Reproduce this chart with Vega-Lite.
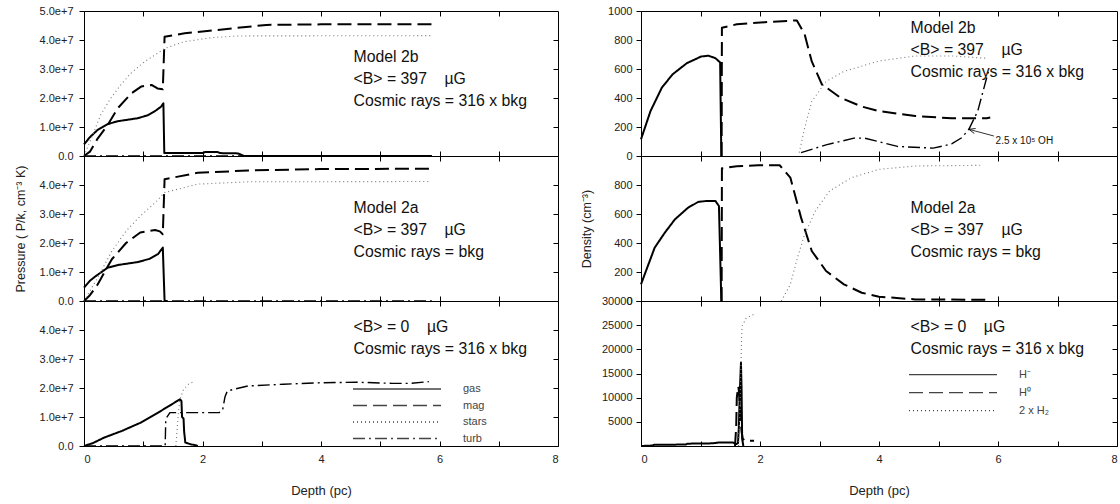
{
"$schema": "https://vega.github.io/schema/vega-lite/v6.json",
"padding": {"left": 13, "top": 4, "right": 0, "bottom": 0},
"datasets": {
"L1": [
{"s":"gas","d":0,"v":4.0e6},{"s":"gas","d":0.1,"v":6.5e6},{"s":"gas","d":0.23,"v":9.0e6},{"s":"gas","d":0.4,"v":1.1e7},{"s":"gas","d":0.57,"v":1.2e7},{"s":"gas","d":0.9,"v":1.3e7},{"s":"gas","d":1.07,"v":1.4e7},{"s":"gas","d":1.2,"v":1.55e7},{"s":"gas","d":1.3,"v":1.7e7},{"s":"gas","d":1.34,"v":1.82e7},{"s":"gas","d":1.355,"v":1.0e6},{"s":"gas","d":2.0,"v":1.0e6},{"s":"gas","d":2.05,"v":1.4e6},{"s":"gas","d":2.25,"v":1.4e6},{"s":"gas","d":2.3,"v":1.0e6},{"s":"gas","d":2.6,"v":9.0e5},{"s":"gas","d":2.7,"v":0},{"s":"gas","d":5.87,"v":0},
{"s":"mag","d":0,"v":0},{"s":"mag","d":0.1,"v":1.5e6},{"s":"mag","d":0.23,"v":6.0e6},{"s":"mag","d":0.4,"v":1.07e7},{"s":"mag","d":0.57,"v":1.65e7},{"s":"mag","d":0.8,"v":2.16e7},{"s":"mag","d":0.97,"v":2.4e7},{"s":"mag","d":1.14,"v":2.45e7},{"s":"mag","d":1.24,"v":2.33e7},{"s":"mag","d":1.33,"v":2.3e7},{"s":"mag","d":1.36,"v":4.11e7},{"s":"mag","d":1.7,"v":4.23e7},{"s":"mag","d":2.5,"v":4.4e7},{"s":"mag","d":3.08,"v":4.52e7},{"s":"mag","d":4.0,"v":4.54e7},{"s":"mag","d":5.87,"v":4.54e7},
{"s":"stars","d":0,"v":0},{"s":"stars","d":0.17,"v":8.4e6},{"s":"stars","d":0.28,"v":1.41e7},{"s":"stars","d":0.45,"v":1.99e7},{"s":"stars","d":0.62,"v":2.45e7},{"s":"stars","d":0.79,"v":2.85e7},{"s":"stars","d":1.02,"v":3.25e7},{"s":"stars","d":1.24,"v":3.54e7},{"s":"stars","d":1.36,"v":3.71e7},{"s":"stars","d":1.69,"v":3.94e7},{"s":"stars","d":2.15,"v":4.08e7},{"s":"stars","d":2.6,"v":4.14e7},{"s":"stars","d":5.87,"v":4.15e7},
{"s":"turb","d":0,"v":0},{"s":"turb","d":5.87,"v":0}
],
"L2": [
{"s":"gas","d":0,"v":4.6e6},{"s":"gas","d":0.1,"v":7.0e6},{"s":"gas","d":0.2,"v":8.6e6},{"s":"gas","d":0.4,"v":1.15e7},{"s":"gas","d":0.6,"v":1.25e7},{"s":"gas","d":0.9,"v":1.34e7},{"s":"gas","d":1.1,"v":1.45e7},{"s":"gas","d":1.25,"v":1.62e7},{"s":"gas","d":1.33,"v":1.84e7},{"s":"gas","d":1.36,"v":0},{"s":"gas","d":1.4,"v":0},
{"s":"mag","d":0,"v":0},{"s":"mag","d":0.1,"v":2.0e6},{"s":"mag","d":0.23,"v":5.7e6},{"s":"mag","d":0.47,"v":1.44e7},{"s":"mag","d":0.71,"v":2.0e7},{"s":"mag","d":0.95,"v":2.36e7},{"s":"mag","d":1.2,"v":2.45e7},{"s":"mag","d":1.28,"v":2.4e7},{"s":"mag","d":1.33,"v":2.3e7},{"s":"mag","d":1.36,"v":4.2e7},{"s":"mag","d":1.92,"v":4.42e7},{"s":"mag","d":2.77,"v":4.5e7},{"s":"mag","d":3.98,"v":4.55e7},{"s":"mag","d":5.85,"v":4.56e7},
{"s":"stars","d":0,"v":0},{"s":"stars","d":0.23,"v":8.0e6},{"s":"stars","d":0.47,"v":1.72e7},{"s":"stars","d":0.71,"v":2.41e7},{"s":"stars","d":0.95,"v":2.93e7},{"s":"stars","d":1.2,"v":3.39e7},{"s":"stars","d":1.36,"v":3.74e7},{"s":"stars","d":1.92,"v":4.03e7},{"s":"stars","d":2.77,"v":4.11e7},{"s":"stars","d":5.85,"v":4.12e7},
{"s":"turb","d":0,"v":0},{"s":"turb","d":5.87,"v":0}
],
"L3": [
{"s":"gas","d":0,"v":0},{"s":"gas","d":0.15,"v":1.0e6},{"s":"gas","d":0.34,"v":2.9e6},{"s":"gas","d":0.64,"v":5.2e6},{"s":"gas","d":0.95,"v":8.0e6},{"s":"gas","d":1.25,"v":1.15e7},{"s":"gas","d":1.62,"v":1.61e7},{"s":"gas","d":1.645,"v":1.55e7},{"s":"gas","d":1.655,"v":1.0e7},{"s":"gas","d":1.68,"v":9.5e6},{"s":"gas","d":1.69,"v":5.0e6},{"s":"gas","d":1.71,"v":1.2e6},{"s":"gas","d":1.8,"v":6.0e5},{"s":"gas","d":1.9,"v":2.0e5},{"s":"gas","d":1.92,"v":0},
{"s":"stars","d":1.55,"v":0},{"s":"stars","d":1.6,"v":1.3e7},{"s":"stars","d":1.62,"v":1.6e7},{"s":"stars","d":1.68,"v":1.95e7},{"s":"stars","d":1.77,"v":2.15e7},{"s":"stars","d":1.86,"v":2.22e7},
{"s":"turb","d":0,"v":0},{"s":"turb","d":1.37,"v":0},{"s":"turb","d":1.38,"v":9.3e6},{"s":"turb","d":1.45,"v":1.15e7},{"s":"turb","d":2.28,"v":1.15e7},{"s":"turb","d":2.34,"v":1.25e7},{"s":"turb","d":2.38,"v":1.7e7},{"s":"turb","d":2.42,"v":1.9e7},{"s":"turb","d":2.52,"v":1.95e7},{"s":"turb","d":2.77,"v":2.07e7},{"s":"turb","d":3.37,"v":2.13e7},{"s":"turb","d":3.98,"v":2.18e7},{"s":"turb","d":4.6,"v":2.2e7},{"s":"turb","d":5.2,"v":2.16e7},{"s":"turb","d":5.5,"v":2.16e7},{"s":"turb","d":5.82,"v":2.22e7}
],
"R1": [
{"s":"H⁻","d":0,"v":115},{"s":"H⁻","d":0.16,"v":310},{"s":"H⁻","d":0.35,"v":471},{"s":"H⁻","d":0.53,"v":563},{"s":"H⁻","d":0.77,"v":640},{"s":"H⁻","d":1.01,"v":686},{"s":"H⁻","d":1.13,"v":692},{"s":"H⁻","d":1.25,"v":675},{"s":"H⁻","d":1.33,"v":645},{"s":"H⁻","d":1.35,"v":0},
{"s":"H⁰","d":1.355,"v":0},{"s":"H⁰","d":1.36,"v":885},{"s":"H⁰","d":1.61,"v":908},{"s":"H⁰","d":2.2,"v":926},{"s":"H⁰","d":2.62,"v":935},{"s":"H⁰","d":2.75,"v":839},{"s":"H⁰","d":2.87,"v":652},{"s":"H⁰","d":3.04,"v":494},{"s":"H⁰","d":3.35,"v":403},{"s":"H⁰","d":3.71,"v":341},{"s":"H⁰","d":4.0,"v":310},{"s":"H⁰","d":4.61,"v":276},{"s":"H⁰","d":5.22,"v":260},{"s":"H⁰","d":5.81,"v":261},{"s":"H⁰","d":5.87,"v":265},
{"s":"2 x H₂","d":2.66,"v":23},{"s":"2 x H₂","d":2.75,"v":192},{"s":"2 x H₂","d":2.87,"v":376},{"s":"2 x H₂","d":3.11,"v":514},{"s":"2 x H₂","d":3.41,"v":583},{"s":"2 x H₂","d":4.0,"v":655},{"s":"2 x H₂","d":4.61,"v":690},{"s":"2 x H₂","d":5.22,"v":690},{"s":"2 x H₂","d":5.81,"v":674},
{"s":"OH","d":2.69,"v":23},{"s":"OH","d":3.11,"v":77},{"s":"OH","d":3.58,"v":123},{"s":"OH","d":3.76,"v":123},{"s":"OH","d":4.31,"v":66},{"s":"OH","d":4.91,"v":54},{"s":"OH","d":5.22,"v":83},{"s":"OH","d":5.39,"v":126},{"s":"OH","d":5.51,"v":184},{"s":"OH","d":5.66,"v":310},{"s":"OH","d":5.75,"v":448},{"s":"OH","d":5.85,"v":600}
],
"R2": [
{"s":"H⁻","d":0,"v":115},{"s":"H⁻","d":0.23,"v":368},{"s":"H⁻","d":0.4,"v":471},{"s":"H⁻","d":0.57,"v":563},{"s":"H⁻","d":0.79,"v":643},{"s":"H⁻","d":0.96,"v":683},{"s":"H⁻","d":1.1,"v":690},{"s":"H⁻","d":1.25,"v":690},{"s":"H⁻","d":1.31,"v":655},{"s":"H⁻","d":1.35,"v":0},
{"s":"H⁰","d":1.355,"v":0},{"s":"H⁰","d":1.36,"v":915},{"s":"H⁰","d":1.61,"v":929},{"s":"H⁰","d":1.97,"v":936},{"s":"H⁰","d":2.33,"v":936},{"s":"H⁰","d":2.51,"v":851},{"s":"H⁰","d":2.69,"v":575},{"s":"H⁰","d":2.87,"v":345},{"s":"H⁰","d":3.11,"v":207},{"s":"H⁰","d":3.41,"v":115},{"s":"H⁰","d":3.71,"v":57},{"s":"H⁰","d":4.0,"v":30},{"s":"H⁰","d":4.61,"v":11},{"s":"H⁰","d":5.81,"v":8},
{"s":"2 x H₂","d":2.36,"v":0},{"s":"2 x H₂","d":2.51,"v":115},{"s":"2 x H₂","d":2.63,"v":299},{"s":"2 x H₂","d":2.75,"v":460},{"s":"2 x H₂","d":2.93,"v":621},{"s":"2 x H₂","d":3.17,"v":759},{"s":"2 x H₂","d":3.54,"v":851},{"s":"2 x H₂","d":4.0,"v":908},{"s":"2 x H₂","d":4.61,"v":931},{"s":"2 x H₂","d":5.75,"v":936}
],
"R3": [
{"s":"H⁻","d":0,"v":0},{"s":"H⁻","d":0.2,"v":100},{"s":"H⁻","d":0.22,"v":250},{"s":"H⁻","d":0.75,"v":300},{"s":"H⁻","d":0.78,"v":480},{"s":"H⁻","d":1.2,"v":550},{"s":"H⁻","d":1.3,"v":700},{"s":"H⁻","d":1.55,"v":700},{"s":"H⁻","d":1.6,"v":400},{"s":"H⁻","d":1.63,"v":600},{"s":"H⁻","d":1.645,"v":4000},{"s":"H⁻","d":1.66,"v":11000},{"s":"H⁻","d":1.68,"v":17200},{"s":"H⁻","d":1.69,"v":12000},{"s":"H⁻","d":1.7,"v":1500},{"s":"H⁻","d":1.72,"v":0},
{"s":"H⁰","d":1.58,"v":0},{"s":"H⁰","d":1.6,"v":4000},{"s":"H⁰","d":1.61,"v":10000},{"s":"H⁰","d":1.62,"v":11000},{"s":"H⁰","d":1.63,"v":12300},{"s":"H⁰","d":1.64,"v":12000},{"s":"H⁰","d":1.66,"v":9000},{"s":"H⁰","d":1.67,"v":6000},{"s":"H⁰","d":1.69,"v":3000},{"s":"H⁰","d":1.71,"v":1500},{"s":"H⁰","d":1.75,"v":1100},{"s":"H⁰","d":1.9,"v":1100},
{"s":"2 x H₂","d":1.64,"v":0},{"s":"2 x H₂","d":1.66,"v":6000},{"s":"2 x H₂","d":1.68,"v":16000},{"s":"2 x H₂","d":1.69,"v":22400},{"s":"2 x H₂","d":1.7,"v":24800},{"s":"2 x H₂","d":1.77,"v":26500},{"s":"2 x H₂","d":1.89,"v":27200}
],
"one": [{}]
},
"config": {
"font": "Liberation Sans",
"view": {"stroke": "#000", "strokeWidth": 1},
"axis": {"grid": false, "domain": false, "labelFont": "Liberation Sans", "labelFontSize": 11, "labelColor": "#222", "tickColor": "#000", "titleFont": "Liberation Sans", "titleFontWeight": "normal", "titleColor": "#222", "titleFontSize": 13},
"legend": {"labelFont": "Liberation Sans"}
},
"spacing": 20,
"resolve": {"scale": {"x": "independent", "y": "independent", "strokeDash": "independent"}, "legend": {"strokeDash": "independent"}},
"hconcat": [
{
"spacing": 0,
"bounds": "flush",
"resolve": {"scale": {"x": "independent", "y": "independent", "strokeDash": "independent"}, "legend": {"strokeDash": "independent"}},
"vconcat": [
{
"width": 474, "height": 145,
"resolve": {"axis": {"x": "independent", "y": "independent"}},
"layer": [
{"data": {"name": "L1"}, "mark": {"type": "line", "strokeJoin": "round"},
"encoding": {
"x": {"field": "d", "type": "quantitative", "scale": {"domain": [0, 8], "nice": false}, "axis": {"values": [1,2,3,4,5,6,7], "labels": false, "tickSize": -5, "title": null}},
"y": {"field": "v", "type": "quantitative", "scale": {"domain": [0, 50000000], "nice": false}, "axis": {"values": [0,10000000,20000000,30000000,40000000,50000000], "labelExpr": "datum.value == 0 ? '0.0' : format(datum.value, '.1e')", "tickSize": 5, "labelPadding": 6, "title": null}},
"strokeDash": {"field": "s", "type": "nominal", "scale": {"domain": ["gas","mag","stars","turb"], "range": [[1,0],[14,6],[1,3],[12,4,2,4]]}, "legend": null},
"color": {"condition": {"test": "datum.s === 'stars'", "value": "#777"}, "value": "#000"},
"strokeWidth": {"condition": [{"test": "datum.s === 'stars'", "value": 1.1}, {"test": "datum.s === 'turb'", "value": 1.4}], "value": 2}
}},
{"data": {"name": "one"}, "mark": {"type": "point", "opacity": 0},
"encoding": {
"x": {"datum": 0, "type": "quantitative", "axis": {"orient": "top", "values": [1,2,3,4,5,6,7], "labels": false, "tickSize": -5, "title": null}},
"y": {"datum": 0, "type": "quantitative", "axis": {"orient": "right", "values": [10000000,20000000,30000000,40000000], "labels": false, "tickSize": -5, "title": null}}
}},
{"data": {"name": "one"}, "mark": {"type": "text", "align": "left", "baseline": "middle", "fontSize": 15.8, "lineHeight": 22, "color": "#111"},
"encoding": {
"x": {"datum": 4.55, "type": "quantitative", "axis": null},
"y": {"datum": 34300000, "type": "quantitative", "axis": null},
"text": {"value": ["Model 2b", "<B> = 397\u00a0\u00a0\u00a0 µG", "Cosmic rays = 316 x bkg"]}
}}
]
},
{
"width": 474, "height": 145,
"resolve": {"axis": {"x": "independent", "y": "independent"}},
"layer": [
{"data": {"name": "L2"}, "mark": {"type": "line", "strokeJoin": "round"},
"encoding": {
"x": {"field": "d", "type": "quantitative", "scale": {"domain": [0, 8], "nice": false}, "axis": {"values": [1,2,3,4,5,6,7], "labels": false, "tickSize": -5, "title": null}},
"y": {"field": "v", "type": "quantitative", "scale": {"domain": [0, 50000000], "nice": false}, "axis": {"values": [0,10000000,20000000,30000000,40000000], "labelExpr": "datum.value == 0 ? '0.0' : format(datum.value, '.1e')", "tickSize": 5, "labelPadding": 6, "title": "Pressure ( P/k, cm⁻³ K)", "titlePadding": 12, "titleFontSize": 12.5}},
"strokeDash": {"field": "s", "type": "nominal", "scale": {"domain": ["gas","mag","stars","turb"], "range": [[1,0],[14,6],[1,3],[12,4,2,4]]}, "legend": null},
"color": {"condition": {"test": "datum.s === 'stars'", "value": "#777"}, "value": "#000"},
"strokeWidth": {"condition": [{"test": "datum.s === 'stars'", "value": 1.1}, {"test": "datum.s === 'turb'", "value": 1.4}], "value": 2}
}},
{"data": {"name": "one"}, "mark": {"type": "point", "opacity": 0},
"encoding": {
"x": {"datum": 0, "type": "quantitative", "axis": {"orient": "top", "values": [1,2,3,4,5,6,7], "labels": false, "tickSize": -5, "title": null}},
"y": {"datum": 0, "type": "quantitative", "axis": {"orient": "right", "values": [10000000,20000000,30000000,40000000], "labels": false, "tickSize": -5, "title": null}}
}},
{"data": {"name": "one"}, "mark": {"type": "text", "align": "left", "baseline": "middle", "fontSize": 15.8, "lineHeight": 22, "color": "#111"},
"encoding": {
"x": {"datum": 4.55, "type": "quantitative", "axis": null},
"y": {"datum": 32100000, "type": "quantitative", "axis": null},
"text": {"value": ["Model 2a", "<B> = 397\u00a0\u00a0\u00a0 µG", "Cosmic rays = bkg"]}
}}
]
},
{
"width": 474, "height": 145,
"resolve": {"axis": {"x": "independent", "y": "independent"}},
"layer": [
{"data": {"name": "L3"}, "mark": {"type": "line", "strokeJoin": "round"},
"encoding": {
"x": {"field": "d", "type": "quantitative", "scale": {"domain": [0, 8], "nice": false}, "axis": {"values": [0,1,2,3,4,5,6,7,8], "labelExpr": "datum.value % 2 === 0 ? datum.label : ''", "tickSize": -5, "labelPadding": 12, "title": "Depth (pc)", "titlePadding": 20.5}},
"y": {"field": "v", "type": "quantitative", "scale": {"domain": [0, 50000000], "nice": false}, "axis": {"values": [0,10000000,20000000,30000000,40000000], "labelExpr": "datum.value == 0 ? '0.0' : format(datum.value, '.1e')", "tickSize": 5, "labelPadding": 6, "title": null}},
"strokeDash": {"field": "s", "type": "nominal", "scale": {"domain": ["gas","mag","stars","turb"], "range": [[1,0],[14,6],[1,3],[12,4,2,4]]},
"legend": {"orient": "none", "legendX": 302, "legendY": 77, "title": null, "padding": 0, "symbolType": "M-4.4,0H4.4", "symbolSize": 400, "symbolStrokeColor": "#444", "symbolStrokeWidth": 1.3, "labelOffset": 55, "labelFontSize": 11, "labelColor": "#444", "rowPadding": 0.5}},
"color": {"condition": {"test": "datum.s === 'stars'", "value": "#777"}, "value": "#000"},
"strokeWidth": {"condition": [{"test": "datum.s === 'stars'", "value": 1.1}, {"test": "datum.s === 'turb'", "value": 1.4}], "value": 2}
}},
{"data": {"name": "one"}, "mark": {"type": "point", "opacity": 0},
"encoding": {
"x": {"datum": 0, "type": "quantitative", "axis": {"orient": "top", "values": [1,2,3,4,5,6,7], "labels": false, "tickSize": -5, "title": null}},
"y": {"datum": 0, "type": "quantitative", "axis": {"orient": "right", "values": [10000000,20000000,30000000,40000000], "labels": false, "tickSize": -5, "title": null}}
}},
{"data": {"name": "one"}, "mark": {"type": "text", "align": "left", "baseline": "middle", "fontSize": 15.8, "lineHeight": 22, "color": "#111"},
"encoding": {
"x": {"datum": 4.55, "type": "quantitative", "axis": null},
"y": {"datum": 41000000, "type": "quantitative", "axis": null},
"text": {"value": ["<B> = 0\u00a0\u00a0\u00a0 µG", "Cosmic rays = 316 x bkg"]}
}}
]
}
]
},
{
"spacing": 0,
"bounds": "flush",
"resolve": {"scale": {"x": "independent", "y": "independent", "strokeDash": "independent"}, "legend": {"strokeDash": "independent"}},
"vconcat": [
{
"width": 476, "height": 145,
"resolve": {"axis": {"x": "independent", "y": "independent"}},
"layer": [
{"data": {"name": "R1"}, "mark": {"type": "line", "strokeJoin": "round"},
"encoding": {
"x": {"field": "d", "type": "quantitative", "scale": {"domain": [0, 8], "nice": false}, "axis": {"values": [1,2,3,4,5,6,7], "labels": false, "tickSize": -5, "title": null}},
"y": {"field": "v", "type": "quantitative", "scale": {"domain": [0, 1000], "nice": false}, "axis": {"values": [0,200,400,600,800,1000], "format": "d", "tickSize": 5, "labelPadding": 4, "title": null}},
"strokeDash": {"field": "s", "type": "nominal", "scale": {"domain": ["H⁻","H⁰","2 x H₂","OH"], "range": [[1,0],[14,6],[1,3],[12,4,2,4]]}, "legend": null},
"color": {"condition": {"test": "datum.s === '2 x H₂'", "value": "#777"}, "value": "#000"},
"strokeWidth": {"condition": [{"test": "datum.s === '2 x H₂'", "value": 1.1}, {"test": "datum.s === 'OH'", "value": 1.4}], "value": 2}
}},
{"data": {"name": "one"}, "mark": {"type": "point", "opacity": 0},
"encoding": {
"x": {"datum": 0, "type": "quantitative", "axis": {"orient": "top", "values": [1,2,3,4,5,6,7], "labels": false, "tickSize": -5, "title": null}},
"y": {"datum": 0, "type": "quantitative", "axis": {"orient": "right", "values": [200,400,600,800], "labels": false, "tickSize": -5, "title": null}}
}},
{"data": {"name": "one"}, "mark": {"type": "text", "align": "left", "baseline": "middle", "fontSize": 15.8, "lineHeight": 22, "color": "#111"},
"encoding": {
"x": {"datum": 4.53, "type": "quantitative", "axis": null},
"y": {"datum": 883, "type": "quantitative", "axis": null},
"text": {"value": ["Model 2b", "<B> = 397\u00a0\u00a0\u00a0 µG", "Cosmic rays = 316 x bkg"]}
}},
{"data": {"name": "one"}, "mark": {"type": "rule", "color": "#000", "strokeWidth": 0.8},
"encoding": {
"x": {"datum": 5.93, "type": "quantitative", "axis": null},
"y": {"datum": 138, "type": "quantitative", "axis": null},
"x2": {"datum": 5.51},
"y2": {"datum": 184}
}},
{"data": {"name": "one"}, "mark": {"type": "point", "shape": "M0,0L2,-0.8M0,0L2,0.8", "filled": false, "stroke": "#000", "strokeWidth": 0.8, "size": 40, "angle": 15, "opacity": 1},
"encoding": {
"x": {"datum": 5.51, "type": "quantitative", "axis": null},
"y": {"datum": 184, "type": "quantitative", "axis": null}
}},
{"data": {"name": "one"}, "mark": {"type": "text", "align": "left", "baseline": "middle", "fontSize": 10, "color": "#111"},
"encoding": {
"x": {"datum": 5.96, "type": "quantitative", "axis": null},
"y": {"datum": 103, "type": "quantitative", "axis": null},
"text": {"value": "2.5 x 10⁵ OH"}
}}
]
},
{
"width": 476, "height": 145,
"resolve": {"axis": {"x": "independent", "y": "independent"}},
"layer": [
{"data": {"name": "R2"}, "mark": {"type": "line", "strokeJoin": "round"},
"encoding": {
"x": {"field": "d", "type": "quantitative", "scale": {"domain": [0, 8], "nice": false}, "axis": {"values": [1,2,3,4,5,6,7], "labels": false, "tickSize": -5, "title": null}},
"y": {"field": "v", "type": "quantitative", "scale": {"domain": [0, 1000], "nice": false}, "axis": {"values": [0,200,400,600,800], "format": "d", "tickSize": 5, "labelPadding": 4, "title": "Density (cm⁻³)", "titlePadding": 20.5, "titleFontSize": 12.5}},
"strokeDash": {"field": "s", "type": "nominal", "scale": {"domain": ["H⁻","H⁰","2 x H₂","OH"], "range": [[1,0],[14,6],[1,3],[12,4,2,4]]}, "legend": null},
"color": {"condition": {"test": "datum.s === '2 x H₂'", "value": "#777"}, "value": "#000"},
"strokeWidth": {"condition": [{"test": "datum.s === '2 x H₂'", "value": 1.1}, {"test": "datum.s === 'OH'", "value": 1.4}], "value": 2}
}},
{"data": {"name": "one"}, "mark": {"type": "point", "opacity": 0},
"encoding": {
"x": {"datum": 0, "type": "quantitative", "axis": {"orient": "top", "values": [1,2,3,4,5,6,7], "labels": false, "tickSize": -5, "title": null}},
"y": {"datum": 0, "type": "quantitative", "axis": {"orient": "right", "values": [200,400,600,800], "labels": false, "tickSize": -5, "title": null}}
}},
{"data": {"name": "one"}, "mark": {"type": "text", "align": "left", "baseline": "middle", "fontSize": 15.8, "lineHeight": 22, "color": "#111"},
"encoding": {
"x": {"datum": 4.53, "type": "quantitative", "axis": null},
"y": {"datum": 641, "type": "quantitative", "axis": null},
"text": {"value": ["Model 2a", "<B> = 397\u00a0\u00a0\u00a0 µG", "Cosmic rays = bkg"]}
}}
]
},
{
"width": 476, "height": 145,
"resolve": {"axis": {"x": "independent", "y": "independent"}},
"layer": [
{"data": {"name": "R3"}, "mark": {"type": "line", "strokeJoin": "round"},
"encoding": {
"x": {"field": "d", "type": "quantitative", "scale": {"domain": [0, 8], "nice": false}, "axis": {"values": [0,1,2,3,4,5,6,7,8], "labelExpr": "datum.value % 2 === 0 ? datum.label : ''", "tickSize": -5, "labelPadding": 12, "title": "Depth (pc)", "titlePadding": 20.5}},
"y": {"field": "v", "type": "quantitative", "scale": {"domain": [0, 30000], "nice": false}, "axis": {"values": [5000,10000,15000,20000,25000,30000], "format": "d", "tickSize": 5, "labelPadding": 4, "title": null}},
"strokeDash": {"field": "s", "type": "nominal", "scale": {"domain": ["H⁻","H⁰","2 x H₂","OH"], "range": [[1,0],[14,6],[1,3],[12,4,2,4]]},
"legend": {"orient": "none", "legendX": 301, "legendY": 62.7, "values": ["H⁻","H⁰","2 x H₂"], "title": null, "padding": 0, "symbolType": "M-4.4,0H4.4", "symbolSize": 400, "symbolStrokeColor": "#444", "symbolStrokeWidth": 1.3, "labelOffset": 55, "labelFontSize": 11, "labelColor": "#444", "rowPadding": 2}},
"color": {"condition": {"test": "datum.s === '2 x H₂'", "value": "#777"}, "value": "#000"},
"strokeWidth": {"condition": [{"test": "datum.s === '2 x H₂'", "value": 1.1}, {"test": "datum.s === 'OH'", "value": 1.4}], "value": 2}
}},
{"data": {"name": "one"}, "mark": {"type": "point", "opacity": 0},
"encoding": {
"x": {"datum": 0, "type": "quantitative", "axis": {"orient": "top", "values": [1,2,3,4,5,6,7], "labels": false, "tickSize": -5, "title": null}},
"y": {"datum": 0, "type": "quantitative", "axis": {"orient": "right", "values": [5000,10000,15000,20000,25000], "labels": false, "tickSize": -5, "title": null}}
}},
{"data": {"name": "one"}, "mark": {"type": "text", "align": "left", "baseline": "middle", "fontSize": 15.8, "lineHeight": 22, "color": "#111"},
"encoding": {
"x": {"datum": 4.53, "type": "quantitative", "axis": null},
"y": {"datum": 24630, "type": "quantitative", "axis": null},
"text": {"value": ["<B> = 0\u00a0\u00a0\u00a0 µG", "Cosmic rays = 316 x bkg"]}
}}
]
}
]
}
]
}
